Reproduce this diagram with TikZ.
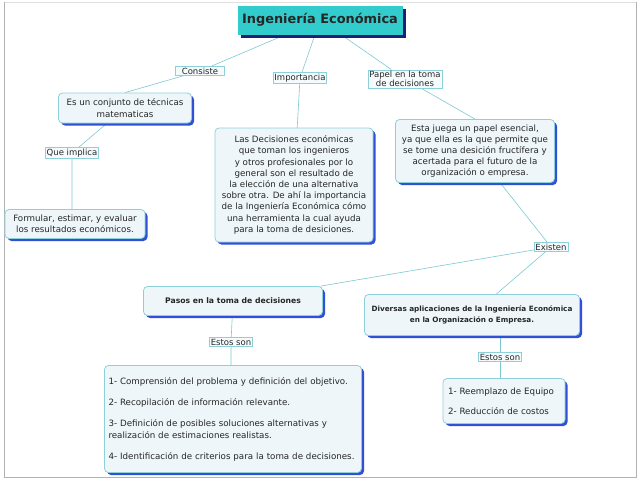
\documentclass[tikz,border=0pt]{standalone}
\usepackage{fontspec}
\setmainfont{DejaVu Sans}
\usetikzlibrary{shadows,backgrounds}
\definecolor{cian}{HTML}{33CCCC}
\definecolor{marino}{HTML}{1B1F7A}
\definecolor{azul}{HTML}{3050D6}
\definecolor{borde}{HTML}{8ED0DA}
\definecolor{fondo}{HTML}{EEF6FA}
\definecolor{enlace}{HTML}{7CC8D2}
\begin{document}
\begin{tikzpicture}[x=1pt,y=-1pt,font=\fontsize{8.7}{11.2}\selectfont,
  concepto/.style={draw=borde,fill=fondo,line width=.8pt,rounded corners=4pt,align=center,text=black!85,
    drop shadow={shadow xshift=2.5pt,shadow yshift=-2.5pt,fill=azul,opacity=1}},
  negrita/.style={font=\bfseries\fontsize{#1}{11}\selectfont},
  frase/.style={draw=borde,fill=fondo!60,line width=.5pt,inner sep=1.2pt,align=center,text=black!85,
    font=\fontsize{8.5}{9.5}\selectfont},
  conector/.style={draw=enlace,line width=.6pt}]
	\useasboundingbox (0,0) rectangle (638,479);
	\draw[gray!25] (4,2) -- (636,2);
	\draw[gray!60,line width=1pt] (4,2) -- (4,477) -- (636,477) -- (636,2);
	% conceptos
	\node[fill=cian,minimum width=165pt,minimum height=29pt,text=black!85,font=\bfseries\fontsize{12.9}{14}\selectfont,
		drop shadow={shadow xshift=3pt,shadow yshift=-3pt,fill=marino,opacity=1}] (ing) at (320,20) {Ingeniería Económica};
	\node[concepto,minimum width=133pt,minimum height=30pt] (conj) at (125,108) {Es un conjunto de técnicas\\matematicas};
	\node[concepto,minimum width=140pt,minimum height=29pt] (form) at (75,224) {Formular, estimar, y evaluar\\los resultados económicos.};
	\node[concepto,minimum width=158pt,minimum height=114pt] (dec) at (294,185) {Las Decisiones económicas\\que toman los ingenieros\\y otros profesionales por lo\\general son el resultado de\\la elección de una alternativa\\sobre otra. De ahí la importancia\\de la Ingeniería Económica cómo\\una herramienta la cual ayuda\\para la toma de desiciones.};
	\node[concepto,minimum width=159pt,minimum height=63pt] (papb) at (475,151) {Esta juega un papel esencial,\\ya que ella es la que permite que\\se tome una desición fructífera y\\acertada para el futuro de la\\organización o empresa.};
	\node[concepto,negrita=7.7,minimum width=179pt,minimum height=29pt] (pasos) at (233,301) {Pasos en la toma de decisiones};
	\node[concepto,negrita=7.25,minimum width=215pt,minimum height=41pt] (div) at (472,315) {Diversas aplicaciones de la Ingeniería Económica\\en la Organización o Empresa.};
	\node[concepto,text width=249pt,inner sep=4pt,minimum height=107pt,align=left,font=\fontsize{8.7}{12}\selectfont] (lista1) at (233,419)
		{1- Comprensión del problema y definición del objetivo.\\[9pt]2- Recopilación de información relevante.\\[9pt]3- Definición de posibles soluciones alternativas y\\realización de estimaciones realistas.\\[9pt]4- Identificación de criterios para la toma de decisiones.};
	\node[concepto,text width=112pt,inner sep=5pt,minimum height=45pt,align=left,font=\fontsize{8.7}{12}\selectfont] (lista2) at (504,401)
		{1- Reemplazo de Equipo\\[8pt]2- Reducción de costos};
	% frases de enlace
	\node[frase,minimum width=49pt] (cons) at (200,71) {Consiste};
	\node[frase] (imp) at (300,78) {Importancia};
	\node[frase] (pap) at (405,79) {Papel en la toma\\de decisiones};
	\node[frase] (impl) at (72,153) {Que implica};
	\node[frase] (exis) at (551,247) {Existen};
	\node[frase] (est1) at (231,342) {Estos son};
	\node[frase] (est2) at (500,357) {Estos son};
	\begin{scope}[on background layer]
		\draw[conector] (ing) -- (cons) -- (conj.north);
		\draw[conector] (conj) -- (impl) -- (impl |- form.north);
		\draw[conector] (ing) -- (imp) -- (dec);
		\draw[conector] (ing) -- (pap) -- (papb.north);
		\draw[conector] (papb) -- (exis) -- (pasos);
		\draw[conector] (exis) -- (div);
		\draw[conector] (pasos) -- (est1) -- (est1 |- lista1.north);
		\draw[conector] (est2 |- div.south) -- (est2) -- (est2 |- lista2.north);
	\end{scope}
\end{tikzpicture}
\end{document}
